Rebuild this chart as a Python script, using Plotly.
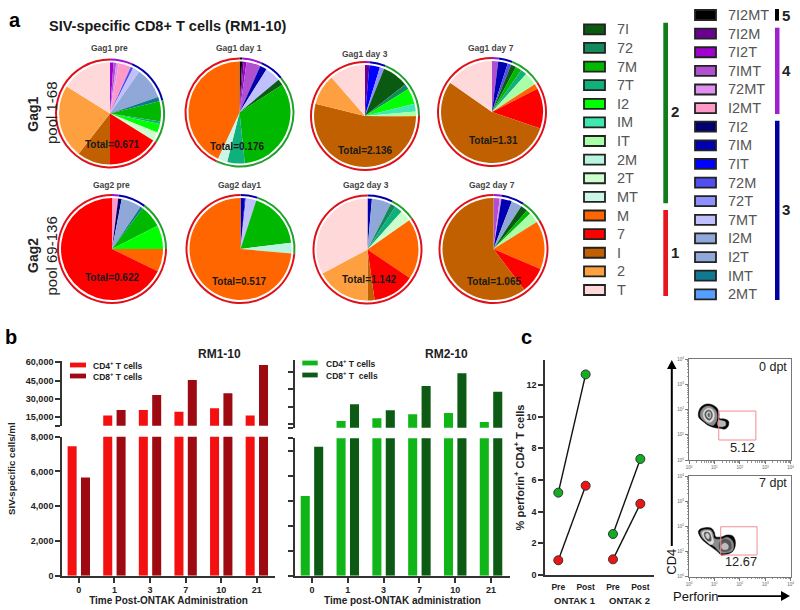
import numpy as np
import plotly.graph_objects as go

W, H = 800, 610
FONT = "Liberation Sans"

# ---------- pie data: polyfunctional subsets, shares read as degrees of arc
subset_colors = {
    "7I": "#0b5a12", "72": "#128a5c", "7M": "#00b800", "7T": "#0fb07c", "I2": "#00ff00",
    "IM": "#40e8b0", "IT": "#a8ffa8", "2M": "#b8f4e0", "2T": "#ccffcc", "MT": "#ccf5ea",
    "M": "#ff6600", "7": "#ff0000", "I": "#c06000", "2": "#ffa040", "T": "#ffd9d9",
    "7I2MT": "#000000", "7I2M": "#6a0090", "7I2T": "#a000d0", "7IMT": "#b050d0",
    "72MT": "#e090f0", "I2MT": "#ff99c8", "7I2": "#000070", "7IM": "#0000b0",
    "7IT": "#0000ff", "72M": "#5050f0", "72T": "#8f8fff", "7MT": "#c0c0ff",
    "I2M": "#8fa8d8", "I2T": "#8fa8d8", "IMT": "#107890", "2MT": "#55a0ff",
}
legend_col1 = ["7I", "72", "7M", "7T", "I2", "IM", "IT", "2M", "2T", "MT", "M", "7", "I", "2", "T"]
legend_col2 = ["7I2MT", "7I2M", "7I2T", "7IMT", "72MT", "I2MT", "7I2", "7IM", "7IT", "72M",
               "72T", "7MT", "I2M", "I2T", "IMT", "2MT"]
group_5 = ["7I2MT"]
group_4 = ["7I2M", "7I2T", "7IMT", "72MT", "I2MT"]
group_3 = ["7I2", "7IM", "7IT", "72M", "72T", "7MT", "I2M", "I2T", "IMT", "2MT"]
group_2 = ["7I", "72", "7M", "7T", "I2", "IM", "IT", "2M", "2T", "MT"]
group_1 = ["M", "7", "I", "2", "T"]
ring_colors = ["#000000", "#a010d0", "#0000a8", "#1fa02a", "#e0101a"]

gag1_pre_labels = ["7I2T", "7IMT", "72MT", "I2MT", "72M", "7MT", "I2M", "IMT", "7M", "7T", "I2", "2T", "7", "I", "2", "T"]
gag1_pre_values = [4, 3, 3, 14, 3, 8, 36, 5, 23, 3, 10, 10, 58, 38, 84, 58]
gag1_day1_labels = ["7I2MT", "7I2M", "7I2T", "7IMT", "7IM", "7MT", "7I", "7M", "7T", "MT", "M"]
gag1_day1_values = [3, 2, 3, 16, 8, 18, 7, 117, 20, 11, 155]
gag1_day3_labels = ["7I2M", "7IT", "72T", "7I", "72", "I2", "IM", "IT", "M", "I", "2", "T"]
gag1_day3_values = [5, 12, 5, 30, 6, 18, 9, 5, 1, 193, 35, 41]
gag1_day7_labels = ["7IMT", "7IM", "72M", "7I", "7M", "7T", "IT", "M", "7", "I", "T"]
gag1_day7_values = [7, 11, 4, 6, 7, 7, 15, 6, 46, 196, 55]
gag2_pre_labels = ["I2MT", "7I2", "I2M", "IMT", "7M", "I2", "M", "7"]
gag2_pre_values = [7, 4, 23, 3, 26, 27, 26, 244]
gag2_day1_labels = ["7IM", "7IT", "7MT", "7M", "2M", "M"]
gag2_day1_values = [5, 1, 12, 65, 12, 265]
gag2_day3_labels = ["7IM", "I2M", "72", "7T", "2T", "M", "7", "I", "2", "T"]
gag2_day3_values = [5, 22, 6, 9, 13, 69, 48, 8, 62, 118]
gag2_day7_labels = ["7IMT", "72MT", "7IM", "I2M", "7I", "7M", "IT", "M", "7", "I"]
gag2_day7_values = [7, 2, 12, 12, 8, 5, 12, 55, 30, 217]

pie_titles = ["Gag1 pre", "Gag1 day 1", "Gag1 day 3", "Gag1 day 7",
              "Gag2 pre", "Gag2 day1", "Gag2 day 3", "Gag2 day 7"]
pie_totals = ["Total=0.671", "Total=0.176", "Total=2.136", "Total=1.31",
              "Total=0.622", "Total=0.517", "Total=1.142", "Total=1.065"]

# ---------- bar data
days = ["0", "1", "3", "7", "10", "21"]
rm1_cd4 = [7450, 16400, 21000, 19600, 22400, 16400]
rm1_cd8 = [5650, 21000, 33300, 45500, 34600, 57800]
rm2_cd4 = [6370, 17340, 19670, 23180, 24350, 16460]
rm2_cd8 = [10320, 31940, 26680, 48000, 59090, 43030]

# ---------- perforin data
ontak_ticks = ["Pre", "Post", "Pre", "Post"]
ontak1_green = [5.2, 12.67]
ontak1_red = [0.93, 5.64]
ontak2_green = [2.59, 7.33]
ontak2_red = [0.99, 4.5]

# ---------- flow plots: contour outlines, in decades
d0_x = [.367, .459, .63, .866, 1.089, 1.181, 1.195, 1.391, 1.549, 1.549, 1.417, 1.22, 1.024, .787, .564, .394]
d0_y = [1.852, 2.09, 2.209, 2.209, 2.077, 1.852, 1.654, 1.627, 1.548, 1.362, 1.23, 1.257, 1.283, 1.362, 1.521, 1.68]
d0_c1x = [.44, .52, .66, .85, 1.03, 1.10, 1.08, .95, .78, .60, .46]
d0_c1y = [1.85, 2.03, 2.13, 2.13, 2.0, 1.82, 1.55, 1.38, 1.42, 1.55, 1.70]
d0_lobex = [1.16, 1.3, 1.42, 1.44, 1.3, 1.14]
d0_lobey = [1.58, 1.56, 1.52, 1.38, 1.32, 1.36]
d0_c2x = [.56, .62, .74, .88, .98, .99, .92, .78, .63]
d0_c2y = [1.82, 1.98, 2.05, 2.03, 1.9, 1.7, 1.55, 1.5, 1.6]
d0_c3x = [.62, .67, .76, .86, .92, .9, .8, .68]
d0_c3y = [1.82, 1.94, 1.99, 1.95, 1.82, 1.68, 1.58, 1.65]
d0_c4x = [.68, .72, .78, .84, .86, .82, .73]
d0_c4y = [1.82, 1.9, 1.93, 1.88, 1.76, 1.66, 1.7]
d0_c5x = [.74, .78, .82, .8, .76]
d0_c5y = [1.82, 1.88, 1.82, 1.7, 1.72]

d7_x = [.367, .446, .63, .892, .997, 1.05, 1.312, 1.483, 1.706, 1.811, 1.811, 1.706, 1.483, 1.26, 1.155, .958, .735, .499]
d7_y = [1.787, 1.893, 1.946, 1.919, 1.761, 1.589, 1.589, 1.655, 1.628, 1.456, 1.192, .993, .888, .861, .967, 1.126, 1.285, 1.496]
d7_c1x = [.45, .64, .86, .95, 1.0, 1.3, 1.5, 1.72, 1.72, 1.5, 1.25, 1.0, .75, .52]
d7_c1y = [1.79, 1.87, 1.85, 1.7, 1.52, 1.5, 1.57, 1.4, 1.05, .95, .95, 1.2, 1.36, 1.55]
d7_c2x = [.52, .64, .84, .91, .96, .85, .7, .56]
d7_c2y = [1.76, 1.82, 1.8, 1.62, 1.35, 1.28, 1.4, 1.58]
d7_c3x = [.6, .68, .8, .86, .86, .74, .62]
d7_c3y = [1.74, 1.78, 1.74, 1.6, 1.42, 1.42, 1.58]
d7_c4x = [.66, .74, .8, .76, .68]
d7_c4y = [1.7, 1.72, 1.62, 1.5, 1.58]
d7_lobe1x = [1.2, 1.4, 1.62, 1.65, 1.45, 1.22]
d7_lobe1y = [1.35, 1.5, 1.4, 1.1, 1.0, 1.06]
d7_lobe2x = [1.3, 1.42, 1.54, 1.52, 1.36, 1.27]
d7_lobe2y = [1.28, 1.34, 1.25, 1.1, 1.08, 1.16]

fig = go.Figure()
shapes, notes = [], []


def px(x):
    return x / W


def py(y):
    return 1 - y / H


def text(x, y, s, size, bold=False, color="#222222", rotate=0, anchor="center"):
    notes.append(dict(x=px(x), y=py(y), xref="paper", yref="paper", text=f"<b>{s}</b>" if bold else s,
                      showarrow=False, font=dict(size=size, color=color, family=FONT),
                      textangle=rotate, xanchor=anchor, yanchor="middle", borderpad=0, borderwidth=0))


def rect(x0, y0, x1, y1, fill, line=None, lw=0):
    shapes.append(dict(type="rect", xref="paper", yref="paper", x0=px(x0), x1=px(x1), y0=py(y0), y1=py(y1),
                       fillcolor=fill, line=dict(color=line or fill, width=lw)))


# ---------- pies
pie_centers = [(110, 113.5), (239.5, 112.5), (365, 116), (492, 112),
               (112, 249), (240.5, 249), (367.5, 249.5), (493.5, 249)]
title_pos = [(109.5, 48), (239, 48), (364.7, 53.7), (490.7, 48), (111, 184.7), (239, 184.7), (366.3, 184.7), (492.3, 184.7)]
total_pos = [(111.7, 145), (237, 146.7), (365, 150), (493.3, 140), (112.3, 277), (239, 281.7), (369, 279.3), (494.3, 281.7)]
all_labels = [gag1_pre_labels, gag1_day1_labels, gag1_day3_labels, gag1_day7_labels,
              gag2_pre_labels, gag2_day1_labels, gag2_day3_labels, gag2_day7_labels]
all_values = [gag1_pre_values, gag1_day1_values, gag1_day3_values, gag1_day7_values,
              gag2_pre_values, gag2_day1_values, gag2_day3_values, gag2_day7_values]
groups = [group_5, group_4, group_3, group_2, group_1]
R_OUT, R_IN = 55, 51
for (cx, cy), labs, vals, name in zip(pie_centers, all_labels, all_values, pie_titles):
    dom_in = dict(x=[px(cx - R_IN), px(cx + R_IN)], y=[py(cy + R_IN), py(cy - R_IN)])
    dom_out = dict(x=[px(cx - R_OUT), px(cx + R_OUT)], y=[py(cy + R_OUT), py(cy - R_OUT)])
    ring = [sum(v for l, v in zip(labs, vals) if l in g) for g in groups]
    fig.add_trace(go.Pie(values=ring, labels=["5", "4", "3", "2", "1"], domain=dom_out, hole=0.964, sort=False,
                         direction="clockwise", rotation=0, textinfo="none", showlegend=False, hoverinfo="skip",
                         marker=dict(colors=ring_colors, line=dict(width=0)), name=name + " functions"))
    fig.add_trace(go.Pie(values=vals, labels=labs, domain=dom_in, sort=False, direction="clockwise", rotation=0,
                         textinfo="none", showlegend=False, name=name,
                         marker=dict(colors=[subset_colors[l] for l in labs], line=dict(width=0))))
for (x, y), s in zip(title_pos, pie_titles):
    text(x, y, s, 8.5, True, "#444444")
for (x, y), s in zip(total_pos, pie_totals):
    text(x, y, s, 10, True, "#1a1a1a")

text(15, 20, "a", 20, True, "#000000")
text(167.5, 26, "SIV-specific CD8+ T cells (RM1-10)", 14.5, True, "#1a1a1a")
text(32.7, 114, "Gag1", 14, True, "#222222", -90)
text(51, 113, "pool 1-68", 15, False, "#222222", -90)
text(33, 256, "Gag2", 14, True, "#222222", -90)
text(50.5, 256, "pool 69-136", 15, False, "#222222", -90)

# ---------- subset legend
for i, lab in enumerate(legend_col1):
    y = 29.3 + i * 18.62
    rect(584, y - 5, 605, y + 5, subset_colors[lab], "#222222", 1.8)
    text(616.7, y, lab, 14.5, False, "#555555", anchor="left")
for i, lab in enumerate(legend_col2):
    y = 15 + i * 18.62
    rect(695, y - 5, 716, y + 5, subset_colors[lab], "#222222", 1.8)
    text(728.3, y, lab, 14.5, False, "#555555", anchor="left")
rect(663.3, 22.7, 668, 203.3, "#107c1c")
rect(663.3, 210, 668, 296, "#e8141e")
rect(775, 9, 779, 20.7, "#000000")
rect(775, 27.7, 779.5, 114, "#a020d0")
rect(775, 120.7, 779.5, 300, "#0000a0")
text(675, 111.7, "2", 15, True)
text(675, 253, "1", 15, True)
text(786, 15, "5", 15, True)
text(786, 70.7, "4", 15, True)
text(786, 210, "3", 15, True)

# ---------- bars with a broken value axis
RED4, RED8, GRN4, GRN8 = "#f41010", "#9e0a12", "#10b518", "#0c5a14"
panels = [("x", "y", rm1_cd4, rm1_cd8, RED4, RED8), ("x2", "y2", rm1_cd4, rm1_cd8, RED4, RED8),
          ("x3", "y3", rm2_cd4, rm2_cd8, GRN4, GRN8), ("x4", "y4", rm2_cd4, rm2_cd8, GRN4, GRN8)]
for xa, ya, s4, s8, c4, c8 in panels:
    fig.add_trace(go.Bar(x=days, y=s4, xaxis=xa, yaxis=ya, marker=dict(color=c4, line=dict(width=0)),
                         showlegend=False, name="CD4+ T cells"))
    fig.add_trace(go.Bar(x=days, y=s8, xaxis=xa, yaxis=ya, marker=dict(color=c8, line=dict(width=0)),
                         showlegend=False, name="CD8+ T cells"))

AX = "#333333"
tick_font = dict(size=9, family=FONT + ", sans-serif", color="#222222", weight="bold")
title_font = dict(size=10, family=FONT, color="#222222", weight="bold")


def line_axis(**kw):
    base = dict(showgrid=False, zeroline=False, showline=True, linecolor=AX, linewidth=1.6,
                ticks="outside", ticklen=5, tickwidth=1.5, tickcolor=AX, tickfont=tick_font)
    base.update(kw)
    return base


rm1_dom = [px(62), px(275)]
rm2_dom = [px(295), px(510)]
low_range = [-0.472, 5.51]
layout_axes = dict(
    xaxis=line_axis(domain=rm1_dom, type="category", range=low_range, anchor="y", categoryorder="array",
                    categoryarray=days, title=dict(text="Time Post-ONTAK Administration", font=title_font, standoff=3)),
    yaxis=line_axis(domain=[py(575.7), py(436.7)], range=[0, 8000], tickvals=[0, 2000, 4000, 6000, 8000],
                    ticktext=["0", "2,000", "4,000", "6,000", "8,000"], anchor="x"),
    xaxis2=dict(domain=rm1_dom, type="category", range=low_range, anchor="y2", visible=False, categoryorder="array", categoryarray=days),
    yaxis2=line_axis(domain=[py(425.7), py(360.6)], range=[8126, 61391], anchor="x2",
                     tickvals=[8126, 15000, 30000, 45000, 60000], ticktext=["", "15,000", "30,000", "45,000", "60,000"]),
    xaxis3=line_axis(domain=rm2_dom, type="category", range=[-0.474, 5.53], anchor="y3", categoryorder="array",
                     categoryarray=days, title=dict(text="Time post-ONTAK administration", font=title_font, standoff=3)),
    yaxis3=line_axis(domain=[py(575.7), py(438.3)], range=[0, 10992], tickvals=[0, 2000, 4000, 6000, 8000, 10000, 10992],
                     showticklabels=False, anchor="x3"),
    xaxis4=dict(domain=rm2_dom, type="category", range=[-0.474, 5.53], anchor="y4", visible=False, categoryorder="array", categoryarray=days),
    yaxis4=line_axis(domain=[py(427.7), py(360)], range=[11450, 70800], tickvals=[11450, 15000, 30000, 45000, 60000],
                     showticklabels=False, anchor="x4"),
)

text(219.3, 354.3, "RM1-10", 12, True)
text(446.7, 354.3, "RM2-10", 12, True)
text(11, 469, "SIV-specific cells/ml", 9.7, True, "#222222", -90)
text(11, 337, "b", 20, True, "#000000")
text(526, 337, "c", 20, True, "#000000")
rect(70, 362.6, 86, 367.4, RED4)
rect(70, 373.6, 86, 378.4, RED8)
text(93.3, 365, "CD4<sup>+</sup> T cells", 8.5, True, "#222222", anchor="left")
text(93.3, 376, "CD8<sup>+</sup> T cells", 8.5, True, "#222222", anchor="left")
rect(302.3, 360.6, 317.7, 365.4, GRN4)
rect(302.3, 372.6, 317.7, 377.4, GRN8)
text(326, 363, "CD4<sup>+</sup> T cells", 8.5, True, "#222222", anchor="left")
text(326, 375, "CD8<sup>+</sup> T  cells", 8.5, True, "#222222", anchor="left")

# ---------- perforin pre/post
for xs, ys, col in [((0, 1), ontak1_green, "#12ad22"), ((0, 1), ontak1_red, "#ee1414"),
                    ((2, 3), ontak2_green, "#12ad22"), ((2, 3), ontak2_red, "#ee1414")]:
    fig.add_trace(go.Scatter(x=list(xs), y=ys, xaxis="x5", yaxis="y5", mode="lines+markers", showlegend=False,
                             line=dict(color="#111111", width=1.4),
                             marker=dict(size=9, color=col, line=dict(color="#333333", width=1))))
layout_axes.update(
    xaxis5=line_axis(domain=[px(545), px(654)], range=[-0.487, 3.5], anchor="y5", tickvals=[0, 1, 2, 3],
                     ticktext=ontak_ticks, ticks="outside", ticklen=3, tickcolor="rgba(0,0,0,0)",
                     tickfont=dict(size=8.5, family=FONT, color="#222222", weight="bold")),
    yaxis5=line_axis(domain=[py(575), py(360)], range=[0, 13.58], anchor="x5", tickvals=[0, 2, 4, 6, 8, 10, 12],
                     title=dict(text="% perforin<sup>+</sup> CD4<sup>+</sup> T cells",
                                font=dict(size=11, family=FONT, color="#222222", weight="bold"), standoff=0)),
)
text(575, 600, "ONTAK 1", 9.5, True)
text(629, 600, "ONTAK 2", 9.5, True)

# ---------- flow panels
d0_layers = [(d0_x, d0_y, "#050505"), (d0_c1x, d0_c1y, "#8c8c8c"), (d0_lobex, d0_lobey, "#b8b8b8"),
             (d0_c2x, d0_c2y, "#dddddd"), (d0_c3x, d0_c3y, "#555555"), (d0_c4x, d0_c4y, "#d8d8d8"), (d0_c5x, d0_c5y, "#666666")]
d7_layers = [(d7_x, d7_y, "#050505"), (d7_c1x, d7_c1y, "#8c8c8c"), (d7_c2x, d7_c2y, "#e0e0e0"), (d7_c3x, d7_c3y, "#555555"),
             (d7_c4x, d7_c4y, "#cfcfcf"), (d7_lobe1x, d7_lobe1y, "#555555"), (d7_lobe2x, d7_lobe2y, "#bdbdbd")]
for layers, xa, ya in [(d0_layers, "x6", "y6"), (d7_layers, "x7", "y7")]:
    for xs, ys, col in layers:
        fig.add_trace(go.Scatter(x=xs + xs[:1], y=ys + ys[:1], xaxis=xa, yaxis=ya, mode="lines", fill="toself",
                                 fillcolor=col, line=dict(color=col, width=0.5, shape="spline"),
                                 showlegend=False, hoverinfo="skip"))

decades = [0, 1, 2, 3, 4]
decade_text = [f"10<sup>{d}</sup>" for d in decades]
minor_vals = [d + np.log10(m) for d in decades[:-1] for m in range(2, 10)]


def flow_axis(dom, anchor):
    return dict(domain=dom, range=[0, 4], anchor=anchor, showgrid=False, zeroline=False, showline=True, mirror=True,
                linecolor="#777777", linewidth=1, ticks="outside", ticklen=3, tickwidth=0.7, tickcolor="#777777",
                tickvals=decades, ticktext=decade_text, tickfont=dict(size=4.5, family=FONT, color="#666666"),
                minor=dict(tickvals=minor_vals, ticks="outside", ticklen=1.5, tickwidth=0.5, tickcolor="#999999"))


layout_axes.update(
    xaxis6=flow_axis([px(689), px(790.7)], "y6"), yaxis6=flow_axis([py(460), py(359.3)], "x6"),
    xaxis7=flow_axis([px(689), px(790.7)], "y7"), yaxis7=flow_axis([py(576.7), py(476)], "x7"),
)
for xr, yr, x0, x1, y0, y1 in [("x6", "y6", 1.17, 2.63, .794, 1.944), ("x7", "y7", 1.248, 2.677, .861, 1.984)]:
    shapes.append(dict(type="rect", xref=xr, yref=yr, x0=x0, x1=x1, y0=y0, y1=y1, layer="above",
                       line=dict(color="#f08c90", width=1), fillcolor="rgba(0,0,0,0)"))
text(786.7, 367, "0 dpt", 12.5, False, "#222222", anchor="right")
text(786.7, 483.3, "7 dpt", 12.5, False, "#222222", anchor="right")
text(742.7, 447.3, "5.12", 12.8, False, "#222222")
text(741.3, 561.7, "12.67", 12.8, False, "#222222")
text(672, 561.7, "CD4", 13, False, "#111111", -90)
text(695.7, 596, "Perforin", 13, False, "#111111")

# arrows
rect(670.8, 367, 672.8, 546, "#000000")
rect(718, 595.2, 782, 597, "#000000")
shapes.append(dict(type="path", xref="paper", yref="paper", line=dict(width=0), fillcolor="#000000",
                   path=f"M {px(667)} {py(369)} L {px(671.8)} {py(360)} L {px(676.6)} {py(369)} Z"))
shapes.append(dict(type="path", xref="paper", yref="paper", line=dict(width=0), fillcolor="#000000",
                   path=f"M {px(781)} {py(591)} L {px(790)} {py(596)} L {px(781)} {py(601)} Z"))

fig.update_layout(
    template="none",
    width=W, height=H, autosize=False, margin=dict(l=0, r=0, t=0, b=0, pad=0),
    paper_bgcolor="white", plot_bgcolor="rgba(0,0,0,0)", barmode="group", bargap=0.25, bargroupgap=0.325,
    font=dict(family=FONT), showlegend=False, shapes=shapes, annotations=notes, **layout_axes,
)
fig.write_html("out.html", config={"displayModeBar": False},
               post_script="document.body.style.margin='0';document.body.style.overflow='hidden';")
